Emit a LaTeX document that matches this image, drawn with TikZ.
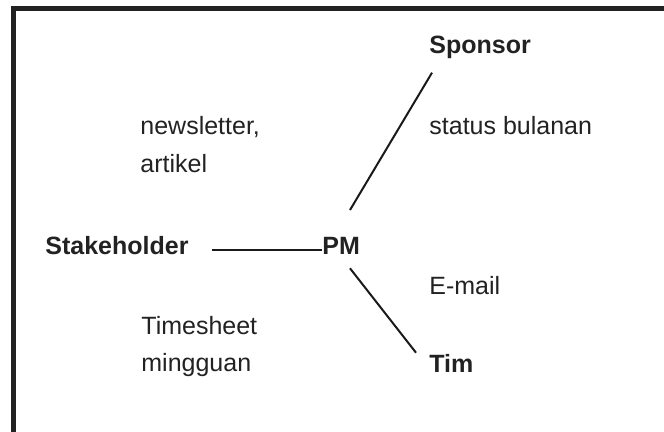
\documentclass[tikz,border=0pt]{standalone}
\usepackage{fontspec}
\setmainfont{Liberation Sans}
\begin{document}
\begin{tikzpicture}[x=0.5pt,y=-0.5pt,
  ink/.style={color={rgb,255:red,34;green,34;blue,34}},
  party/.style={ink,font=\fontsize{12.5pt}{15pt}\selectfont\bfseries,inner sep=0pt,anchor=base west},
  channel/.style={ink,font=\fontsize{12.5pt}{15pt}\selectfont,inner sep=0pt,anchor=base west},
  link/.style={draw={rgb,255:red,26;green,26;blue,26},line width=1pt}]
  \useasboundingbox (0,0) rectangle (664,432);
  \fill[white] (0,0) rectangle (664,432);
  % frame: left and top edges
  \draw[draw={rgb,255:red,34;green,34;blue,34},line width=2.6pt,miter limit=10]
    (13.5,440) -- (13.5,8.5) -- (670,8.5);

  % parties
  \node[party] (sponsor) at (429,54) {Sponsor};
  \node[party] (stake)   at (45,255) {Stakeholder};
  \node[party] (pm)      at (322,255) {PM};
  \node[party] (tim)     at (429,373) {Tim};

  % communication channels
  \node[channel] (news)   at (140,135) {newsletter,};
  \node[channel] (art)    at (140,173) {artikel};
  \node[channel] (status) at (429,135) {status bulanan};
  \node[channel] (email)  at (429,294.5) {E-mail};
  \node[channel] (times)  at (141,334.5) {Timesheet};
  \node[channel] (mingg)  at (141,372) {mingguan};

  % links from the PM
  \draw[link] ([shift={(23,-5.3)}]stake.base east) -- ([shift={(0,-5.3)}]pm.base west);
  \draw[link] ([shift={(28,-45)}]pm.base west) -- ([shift={(3,18.7)}]sponsor.base west);
  \draw[link] ([shift={(28,13.3)}]pm.base west) -- ([shift={(-13,-20.3)}]tim.base west);
\end{tikzpicture}
\end{document}
